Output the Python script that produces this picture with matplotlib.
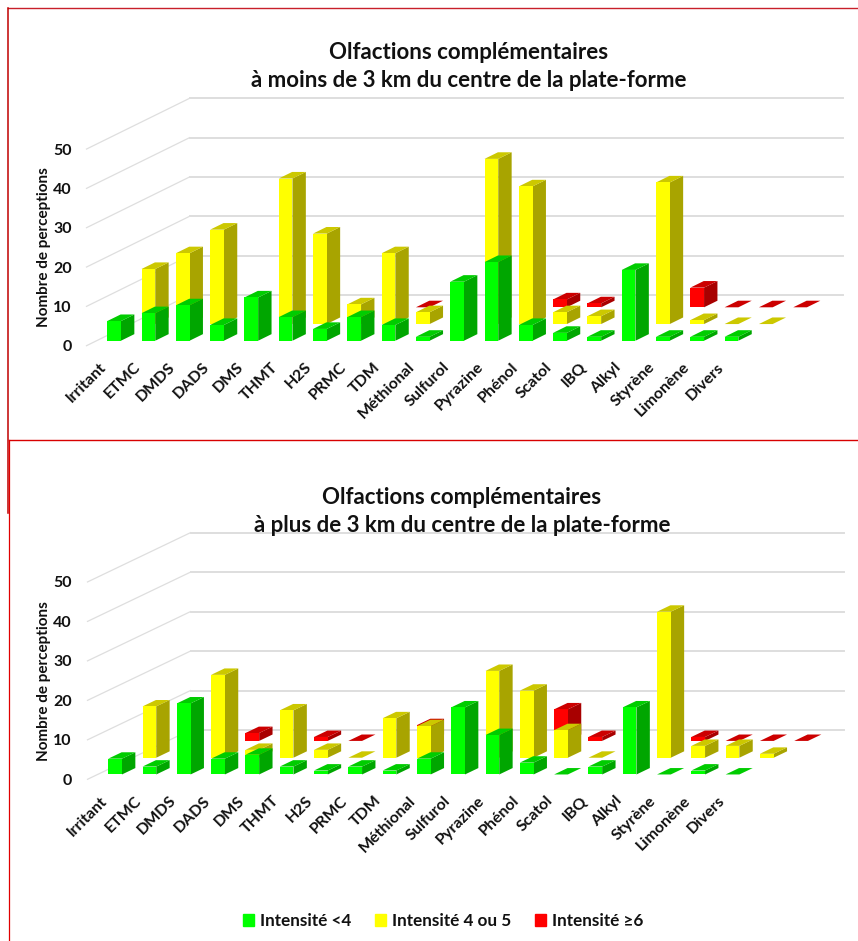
import numpy as np
import matplotlib
matplotlib.use("Agg")
import matplotlib.pyplot as plt
from matplotlib.lines import Line2D
from matplotlib.patches import Patch

plt.rcParams['font.family'] = ['Lato', 'DejaVu Sans']
plt.rcParams['font.weight'] = 'bold'

N = np.nan
categories = ["Irritant", "ETMC", "DMDS", "DADS", "DMS", "THMT", "H2S", "PRMC", "TDM",
              "Méthional", "Sulfurol", "Pyrazine", "Phénol", "Scatol", "IBQ", "Alkyl",
              "Styrène", "Limonène", "Divers"]
y_ticks = [0, 10, 20, 30, 40, 50]

# values per position (the two last positions have no label in the source)
near_green  = [5, 7, 9, 4, 11, 6, 3, 6, 4, 1, 15, 20, 4, 2, 1, 18, 1, 1, 1, N, N]
near_yellow = [N, 14, 18, 24, N, 37, 23, 5, 18, 3, N, 42, 35, 3, 2, N, 36, 1, 0, 0, N]
near_red    = [N, N, N, N, N, N, N, N, N, 0, N, N, N, 2, 1, N, N, 5, 0, 0, 0]

far_green  = [4, 2, 18, 4, 5, 2, 1, 2, 1, 4, 17, 10, 3, 0, 2, 17, 0, 1, 0, N, N]
far_yellow = [N, 13, N, 21, 2, 12, 2, 0, 10, 8, N, 22, 17, 7, 0, N, 37, 3, 3, 1, N]
far_red    = [N, N, N, N, 2, N, 1, 0, N, 4, N, N, N, 8, 1, N, N, 1, 0, 0, 0]

titles = ["Olfactions complémentaires\nà moins de 3 km du centre de la plate-forme",
          "Olfactions complémentaires\nà plus de 3 km du centre de la plate-forme"]
legend_labels = ["Intensité <4", "Intensité 4 ou 5", "Intensité ≥6"]
ylabel = "Nombre de perceptions"

W, H = 858, 941
GREEN = ("#00FF00", "#00A600", "#00CC00")
YELLOW = ("#FFFF00", "#A8A400", "#CCC800")
RED = ("#FF0000", "#A80000", "#CC0000")
GRID = "#DEDEDE"

fig = plt.figure(figsize=(W / 100, H / 100), dpi=100)
fig.patch.set_facecolor("white")


def panel(green, yellow, red, title, x0, zero_px, unit_px, depth_py, title_cx, title_y, label_y):
    step = 34.3
    left_px, right_px = 74, 842
    bottom_px, top_px = zero_px + 11, zero_px - 262
    ax = fig.add_axes([left_px / W, 1 - bottom_px / H, (right_px - left_px) / W, (bottom_px - top_px) / H])
    ax.set_xlim((left_px - x0) / step, (right_px - x0) / step)
    ax.set_ylim((zero_px - bottom_px) / unit_px, (zero_px - top_px) / unit_px)
    ax.patch.set_alpha(0)
    for s in ax.spines.values():
        s.set_visible(False)

    depth_x = 103 / step
    depth_y = depth_py / unit_px
    xs, xe = -0.51, 18.53

    for t in y_ticks:
        ax.plot([xs, xs + depth_x], [t, t + depth_y], color=GRID, lw=0.9, zorder=1, clip_on=False)
        ax.plot([xs + depth_x, xe + depth_x], [t + depth_y, t + depth_y], color=GRID, lw=1.4, zorder=1, clip_on=False)

    d0, dd = 0.098, 0.13
    bw = 0.4

    def stack(vals, base, colors, z):
        vals = np.asarray(vals, float)
        idx = np.where(~np.isnan(vals))[0]
        fx = idx + d0 * depth_x
        y0 = base + d0 * depth_y
        tops = y0 + vals[idx]
        ax.bar(fx, vals[idx], bw, bottom=y0, color=colors[0], lw=0, zorder=z + 2)
        sx, sy = dd * depth_x, dd * depth_y
        for x, ty in zip(fx, tops):
            r = x + bw / 2
            l = x - bw / 2
            ax.fill([r, r + sx, r + sx, r], [y0, y0 + sy, ty + sy, ty], color=colors[1], lw=0, zorder=z)
            ax.fill([l, r, r + sx, l + sx], [ty, ty, ty + sy, ty + sy], color=colors[2], lw=0, zorder=z + 1)

    stack(red, 8.5, RED, 10)
    stack(yellow, 4.24, YELLOW, 20)
    stack(green, 0, GREEN, 30)

    ax.set_yticks(y_ticks)
    ax.set_xticks(range(len(categories)))
    ax.set_xticklabels(categories, rotation=45, ha='right', va='center', rotation_mode='anchor', fontsize=11.5)
    ax.tick_params(axis='both', length=0, colors="#111111")
    ax.tick_params(axis='x', pad=6, labelsize=11.5)
    ax.tick_params(axis='y', pad=1.5, labelsize=11.5)
    ax.set_ylabel(ylabel, fontsize=11, fontweight='bold', color="#111111")
    ax.yaxis.set_label_coords((51 - left_px) / (right_px - left_px), (bottom_px - label_y) / (bottom_px - top_px))
    ax.set_title(title, fontsize=16, fontweight='bold', color="#111111", linespacing=1.42,
                 x=(title_cx - left_px) / (right_px - left_px),
                 y=(bottom_px - title_y) / (bottom_px - top_px), va='center', ha='center')
    return ax


panel(near_green, near_yellow, near_red, titles[0], 104, 345.7, 3.933, 50.7, 469, 75, 247)
panel(far_green, far_yellow, far_red, titles[1], 105, 779.3, 3.947, 49.3, 462, 520, 681)

for xs_, ys_, col, lw in [((7.5, 858), (7.5, 7.5), "#C8202A", 1.0), ((7.5, 7.5), (7.5, 513), "#C00000", 1.1),
                          ((8.5, 858), (440.3, 440.3), "#D80000", 1.0), ((8.5, 8.5), (440, 941), "#E00000", 0.9)]:
    fig.add_artist(Line2D([x / W for x in xs_], [1 - y / H for y in ys_], color=col, lw=lw))

handles = [Patch(color=c[0]) for c in (GREEN, YELLOW, RED)]
fig.legend(handles, legend_labels, ncol=3, loc='center', bbox_to_anchor=(443 / W, 1 - 921 / H),
           frameon=False, fontsize=12.3, handlelength=0.65, handleheight=0.65, handletextpad=0.35,
           columnspacing=1.4, labelcolor="#111111")

fig.savefig("out.png", dpi=100)
